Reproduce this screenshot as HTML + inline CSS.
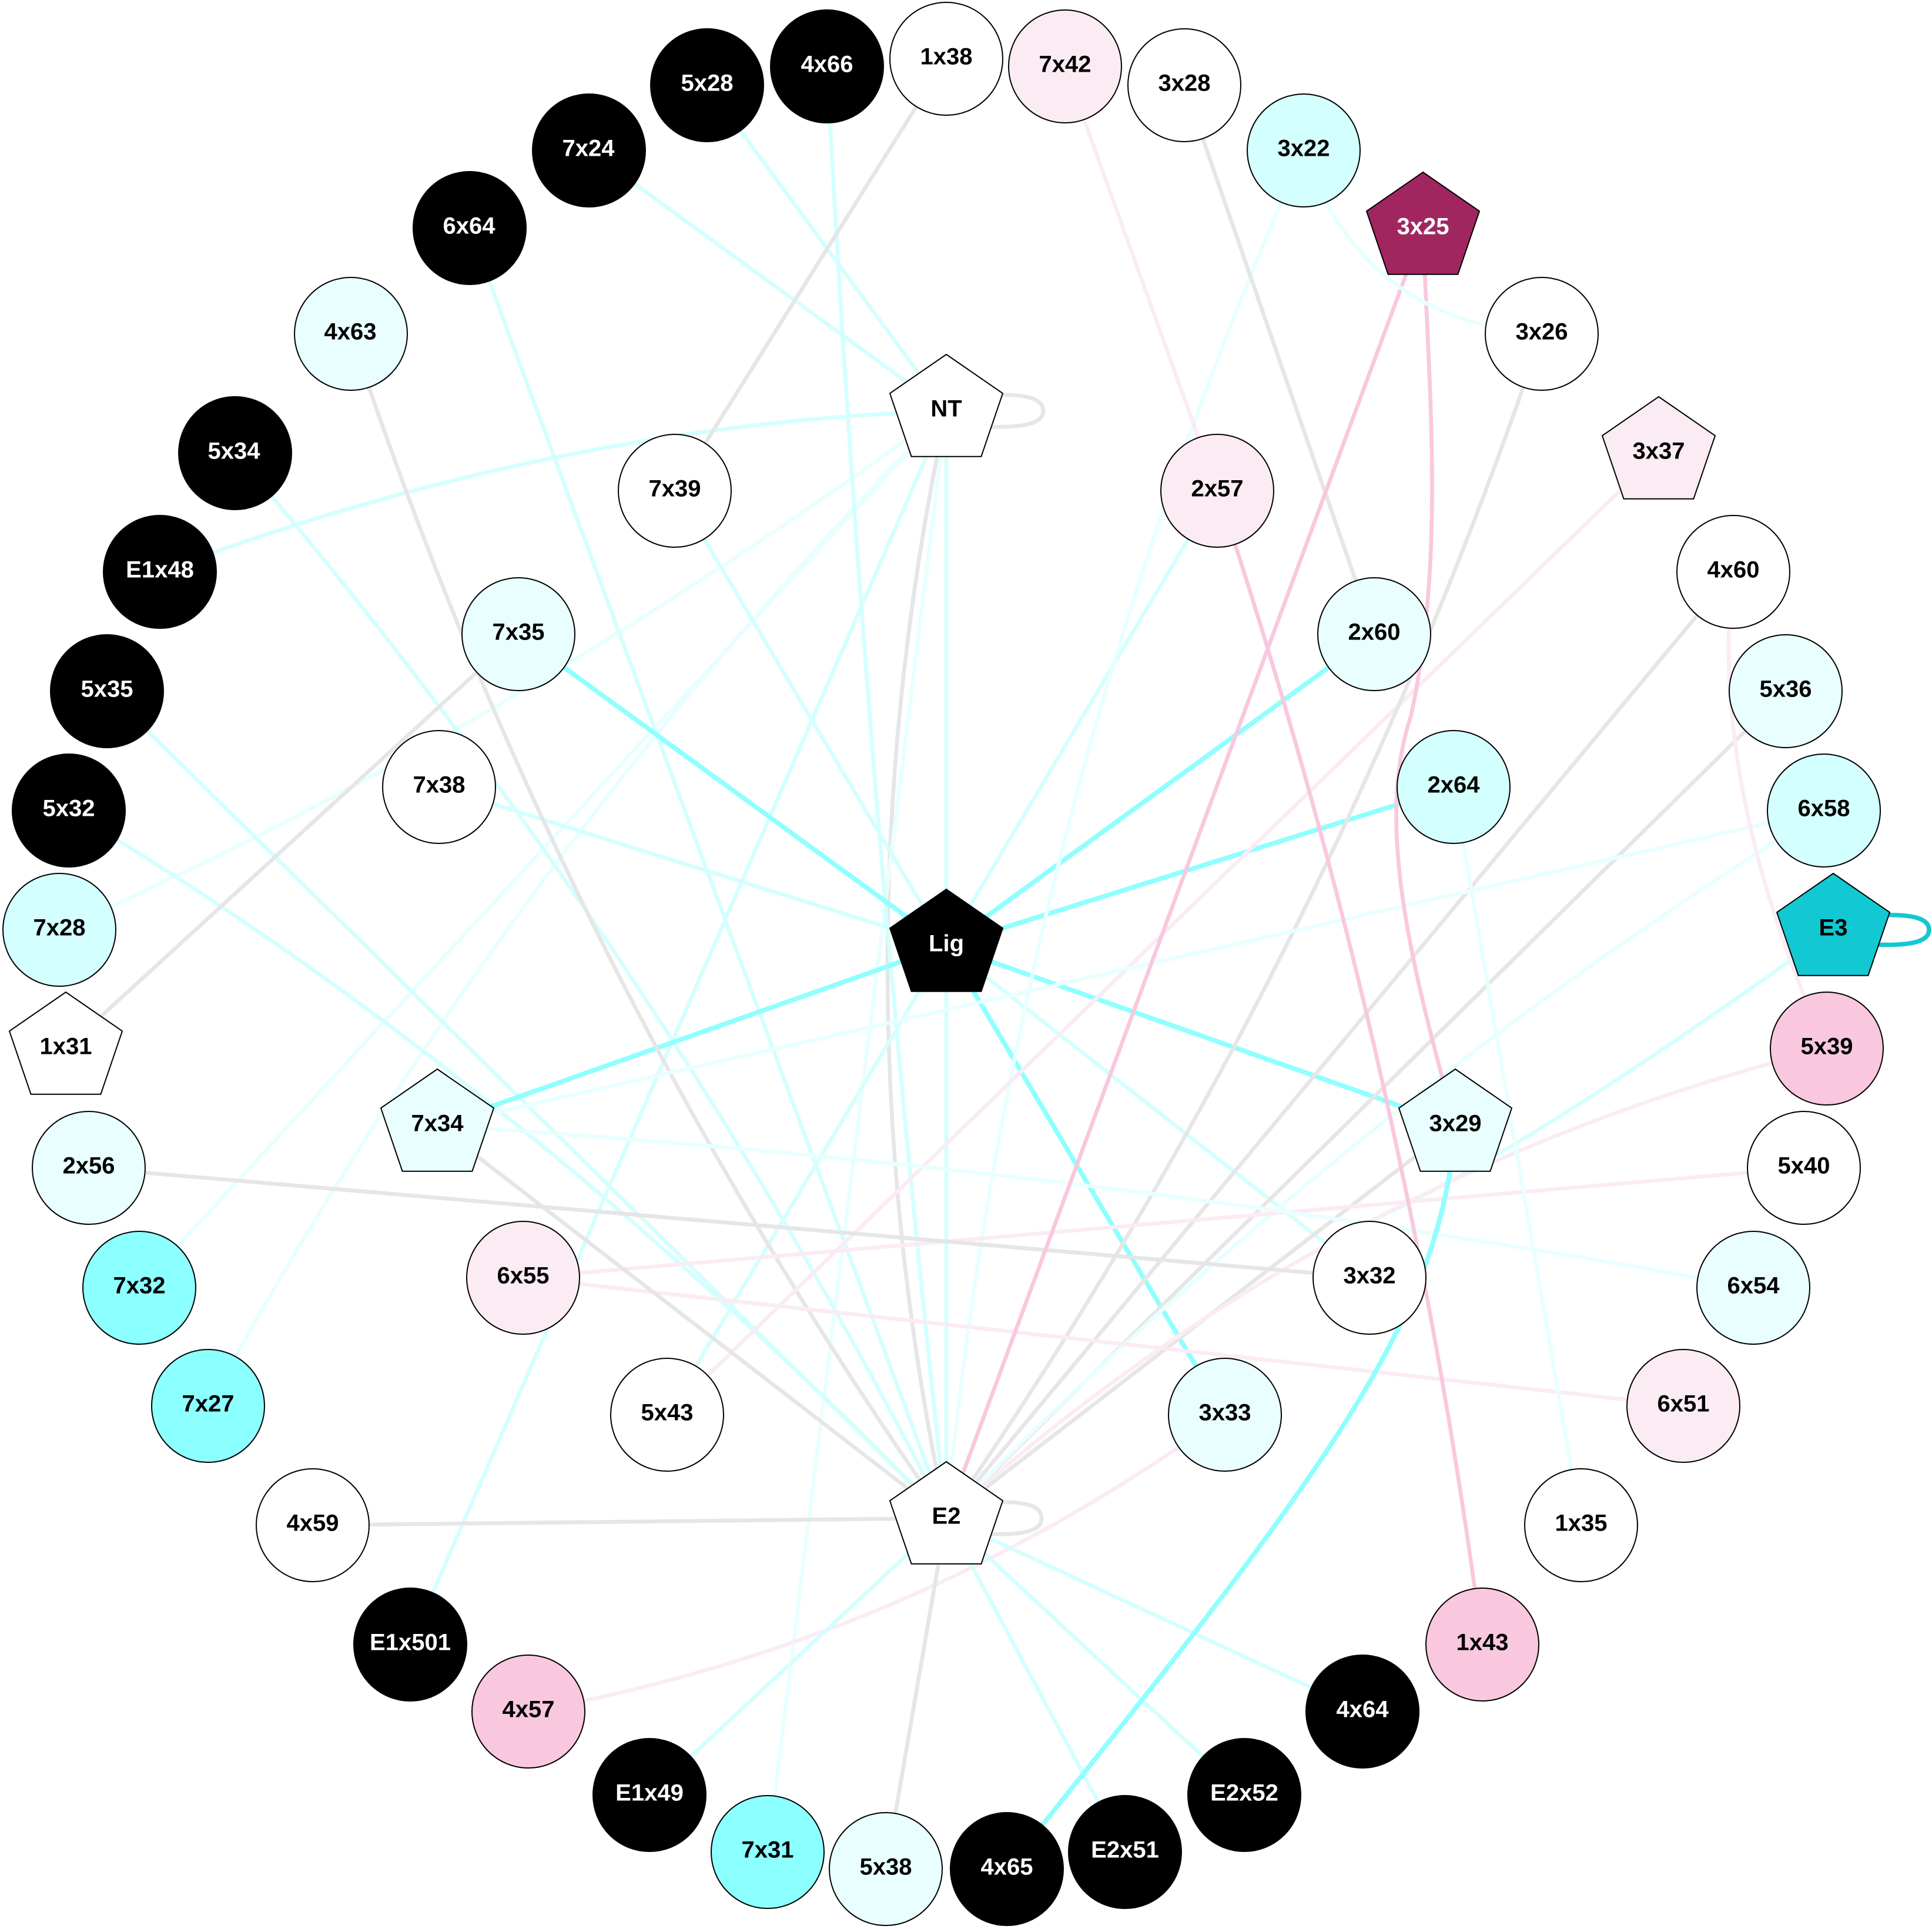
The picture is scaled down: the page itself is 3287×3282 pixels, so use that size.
<!DOCTYPE html>
<html><head><meta charset="utf-8"><style>
html,body{margin:0;padding:0;background:#fff;width:3287px;height:3282px;overflow:hidden}
svg{display:block}
path,line{fill:none;stroke-width:6.7}
.g{stroke:#e6e6e6}.a{stroke:#d4ffff}.b{stroke:#e9ffff}.c{stroke:#8fffff;stroke-width:8}
.p{stroke:#fbecf4}.q{stroke:#f9c8de}.t{stroke:#12c8d2;stroke-width:7.5}
circle,polygon{stroke:#000;stroke-width:2}
text{font-family:"Liberation Sans",Arial,sans-serif;font-weight:bold;font-size:40px;text-anchor:middle;fill:#000;transform:translateY(0.5px)}
.w{fill:#fff}
</style></head><body>
<svg width="3287" height="3282" viewBox="0 0 3287 3282" xmlns="http://www.w3.org/2000/svg">
<rect width="3287" height="3282" fill="#fff"/>
<!-- edges -->
<path class="g" d="M1690 672 C1745 670 1775 678 1775 699 C1775 720 1745 728 1680 726"/>
<path class="g" d="M1690 2556 C1745 2554 1772 2562 1772 2583 C1772 2604 1745 2612 1680 2610"/>
<path class="t" d="M3200 1557 C3255 1555 3282 1563 3282 1582 C3282 1601 3255 1610 3185 1607"/>
<line class="a" x1="1203" y1="145" x2="1610" y2="699"/>
<line class="a" x1="1002" y1="256" x2="1610" y2="699"/>
<path class="a" d="M272 973 Q941 722 1610 699"/>
<line class="a" x1="1610" y1="699" x2="1610" y2="1609"/>
<line class="a" x1="1610" y1="1609" x2="1610" y2="2583"/>
<path class="g" d="M1610 699 Q1410 1641 1610 2583"/>
<path class="b" d="M1610 699 Q855 1250 100 1582"/>
<line class="b" x1="1610" y1="699" x2="237" y2="2191"/>
<path class="b" d="M1610 699 Q862 1457 354 2392"/>
<line class="a" x1="1610" y1="699" x2="698" y2="2798"/>
<line class="b" x1="1610" y1="699" x2="1306" y2="3151"/>
<line class="a" x1="799" y1="388" x2="1610" y2="2583"/>
<path class="a" d="M1407 113 Q1472 1348 1610 2583"/>
<path class="a" d="M400 771 Q1113 1604 1610 2583"/>
<line class="a" x1="182" y1="1176" x2="1610" y2="2583"/>
<path class="a" d="M117 1379 Q863 1821 1610 2583"/>
<line class="a" x1="1149" y1="835" x2="1610" y2="1609"/>
<line class="a" x1="747" y1="1339" x2="1610" y2="1609"/>
<line class="a" x1="2071" y1="834" x2="1610" y2="1609"/>
<line class="a" x1="2330" y1="2174" x2="1610" y2="1609"/>
<line class="a" x1="1135" y1="2407" x2="1610" y2="1609"/>
<line class="c" x1="882" y1="1079" x2="1610" y2="1609"/>
<line class="c" x1="2338" y1="1079" x2="1610" y2="1609"/>
<line class="c" x1="2473" y1="1339" x2="1610" y2="1609"/>
<line class="c" x1="744" y1="1915" x2="1610" y2="1609"/>
<line class="c" x1="2476" y1="1915" x2="1610" y2="1609"/>
<line class="c" x1="2084" y1="2407" x2="1610" y2="1609"/>
<path class="b" d="M2218 256 Q1726 1371 1610 2583"/>
<line class="g" x1="2015" y1="145" x2="2338" y2="1079"/>
<line class="p" x1="1812" y1="113" x2="2071" y2="834"/>
<line class="g" x1="1610" y1="100" x2="1149" y2="835"/>
<path class="g" d="M597 568 Q957 1655 1610 2583"/>
<line class="g" x1="882" y1="1079" x2="112" y2="1784"/>
<line class="p" x1="2822" y1="771" x2="1135" y2="2407"/>
<path class="g" d="M2623 568 Q2258 1647 1610 2583"/>
<line class="g" x1="2949" y1="973" x2="1610" y2="2583"/>
<line class="g" x1="3038" y1="1176" x2="1610" y2="2583"/>
<line class="g" x1="2476" y1="1915" x2="1610" y2="2583"/>
<path class="b" d="M3103 1379 Q2283 1891 1610 2583"/>
<line class="b" x1="3103" y1="1379" x2="744" y2="1915"/>
<path class="a" d="M3119 1582 Q2543 1997 2300 2090"/>
<path class="p" d="M3108 1784 Q2259 1996 1610 2583"/>
<line class="p" x1="3069" y1="1987" x2="890" y2="2174"/>
<line class="p" x1="890" y1="2174" x2="2864" y2="2392"/>
<line class="g" x1="151" y1="1987" x2="2330" y2="2174"/>
<path class="b" d="M744 1915 Q1863 1985 2983 2191"/>
<line class="g" x1="744" y1="1915" x2="1610" y2="2583"/>
<line class="b" x1="2473" y1="1339" x2="2690" y2="2595"/>
<path class="p" d="M899 2912 Q1549 2796 2084 2407"/>
<path class="p" d="M2949 973 C2920 1200 2970 1480 3108 1784"/>
<line class="g" x1="532" y1="2595" x2="1610" y2="2583"/>
<line class="g" x1="1507" y1="3180" x2="1610" y2="2583"/>
<line class="a" x1="1105" y1="3054" x2="1610" y2="2583"/>
<line class="a" x1="1914" y1="3151" x2="1610" y2="2583"/>
<line class="a" x1="2117" y1="3054" x2="1610" y2="2583"/>
<line class="a" x1="2318" y1="2912" x2="1610" y2="2583"/>
<line class="q" x1="2421" y1="389" x2="1610" y2="2583"/>
<path class="q" d="M2421 389 C2430 650 2460 950 2400 1220 C2340 1400 2400 1640 2476 1915"/>
<path class="b" d="M2218 256 Q2316 546 2623 568"/>
<path class="q" d="M2071 834 Q2391 1794 2522 2798"/>
<path class="c" d="M2476 1915 C2450 2250 2260 2500 1713 3180"/>
<!-- circle nodes -->
<circle cx="1203" cy="145" r="96" fill="#000"/><text class="w" x="1203" y="154">5x28</text>
<circle cx="1407" cy="113" r="96" fill="#000"/><text class="w" x="1407" y="122">4x66</text>
<circle cx="1610" cy="100" r="96" fill="#fff"/><text x="1610" y="109">1x38</text>
<circle cx="1812" cy="113" r="96" fill="#fbecf4"/><text x="1812" y="122">7x42</text>
<circle cx="2015" cy="145" r="96" fill="#fff"/><text x="2015" y="154">3x28</text>
<circle cx="2218" cy="256" r="96" fill="#d4ffff"/><text x="2218" y="265">3x22</text>
<circle cx="2623" cy="568" r="96" fill="#fff"/><text x="2623" y="577">3x26</text>
<circle cx="2949" cy="973" r="96" fill="#fff"/><text x="2949" y="982">4x60</text>
<circle cx="3038" cy="1176" r="96" fill="#e9ffff"/><text x="3038" y="1185">5x36</text>
<circle cx="3103" cy="1379" r="96" fill="#d4ffff"/><text x="3103" y="1388">6x58</text>
<circle cx="3108" cy="1784" r="96" fill="#f9c8de"/><text x="3108" y="1793">5x39</text>
<circle cx="3069" cy="1987" r="96" fill="#fff"/><text x="3069" y="1996">5x40</text>
<circle cx="2983" cy="2191" r="96" fill="#e9ffff"/><text x="2983" y="2200">6x54</text>
<circle cx="2864" cy="2392" r="96" fill="#fbecf4"/><text x="2864" y="2401">6x51</text>
<circle cx="2690" cy="2595" r="96" fill="#fff"/><text x="2690" y="2604">1x35</text>
<circle cx="2522" cy="2798" r="96" fill="#f9c8de"/><text x="2522" y="2807">1x43</text>
<circle cx="2318" cy="2912" r="96" fill="#000"/><text class="w" x="2318" y="2921">4x64</text>
<circle cx="2117" cy="3054" r="96" fill="#000"/><text class="w" x="2117" y="3063">E2x52</text>
<circle cx="1914" cy="3151" r="96" fill="#000"/><text class="w" x="1914" y="3160">E2x51</text>
<circle cx="1713" cy="3180" r="96" fill="#000"/><text class="w" x="1713" y="3189">4x65</text>
<circle cx="1507" cy="3180" r="96" fill="#e9ffff"/><text x="1507" y="3189">5x38</text>
<circle cx="1306" cy="3151" r="96" fill="#8cffff"/><text x="1306" y="3160">7x31</text>
<circle cx="1105" cy="3054" r="96" fill="#000"/><text class="w" x="1105" y="3063">E1x49</text>
<circle cx="899" cy="2912" r="96" fill="#f9c8de"/><text x="899" y="2921">4x57</text>
<circle cx="698" cy="2798" r="96" fill="#000"/><text class="w" x="698" y="2807">E1x501</text>
<circle cx="532" cy="2595" r="96" fill="#fff"/><text x="532" y="2604">4x59</text>
<circle cx="354" cy="2392" r="96" fill="#8cffff"/><text x="354" y="2401">7x27</text>
<circle cx="237" cy="2191" r="96" fill="#8cffff"/><text x="237" y="2200">7x32</text>
<circle cx="151" cy="1987" r="96" fill="#e9ffff"/><text x="151" y="1996">2x56</text>
<circle cx="101" cy="1582" r="96" fill="#d4ffff"/><text x="101" y="1591">7x28</text>
<circle cx="117" cy="1379" r="96" fill="#000"/><text class="w" x="117" y="1388">5x32</text>
<circle cx="182" cy="1176" r="96" fill="#000"/><text class="w" x="182" y="1185">5x35</text>
<circle cx="272" cy="973" r="96" fill="#000"/><text class="w" x="272" y="982">E1x48</text>
<circle cx="400" cy="771" r="96" fill="#000"/><text class="w" x="398" y="780">5x34</text>
<circle cx="597" cy="568" r="96" fill="#e9ffff"/><text x="596" y="577">4x63</text>
<circle cx="799" cy="388" r="96" fill="#000"/><text class="w" x="798" y="397">6x64</text>
<circle cx="1002" cy="256" r="96" fill="#000"/><text class="w" x="1001" y="265">7x24</text>
<circle cx="1148" cy="835" r="96" fill="#fff"/><text x="1148" y="844">7x39</text>
<circle cx="2071" cy="835" r="96" fill="#fbecf4"/><text x="2071" y="844">2x57</text>
<circle cx="882" cy="1079" r="96" fill="#e9ffff"/><text x="882" y="1088">7x35</text>
<circle cx="2338" cy="1079" r="96" fill="#e9ffff"/><text x="2338" y="1088">2x60</text>
<circle cx="747" cy="1339" r="96" fill="#fff"/><text x="747" y="1348">7x38</text>
<circle cx="2473" cy="1339" r="96" fill="#d4ffff"/><text x="2473" y="1348">2x64</text>
<circle cx="890" cy="2174" r="96" fill="#fbecf4"/><text x="890" y="2183">6x55</text>
<circle cx="2330" cy="2174" r="96" fill="#fff"/><text x="2330" y="2183">3x32</text>
<circle cx="1135" cy="2407" r="96" fill="#fff"/><text x="1135" y="2416">5x43</text>
<circle cx="2084" cy="2407" r="96" fill="#e9ffff"/><text x="2084" y="2416">3x33</text>
<!-- pentagon nodes -->
<g transform="translate(2421,389)"><polygon fill="#a12660" points="0,-96 96,-29.7 59.4,77.7 -59.4,77.7 -96,-29.7"/><text class="w" y="9">3x25</text></g>
<g transform="translate(2822,771)"><polygon fill="#fbecf4" points="0,-96 96,-29.7 59.4,77.7 -59.4,77.7 -96,-29.7"/><text y="9">3x37</text></g>
<g transform="translate(3119,1582)"><polygon fill="#12c8d2" points="0,-96 96,-29.7 59.4,77.7 -59.4,77.7 -96,-29.7"/><text y="9">E3</text></g>
<g transform="translate(112,1784)"><polygon fill="#fff" points="0,-96 96,-29.7 59.4,77.7 -59.4,77.7 -96,-29.7"/><text y="9">1x31</text></g>
<g transform="translate(1610,699)"><polygon fill="#fff" points="0,-96 96,-29.7 59.4,77.7 -59.4,77.7 -96,-29.7"/><text y="9">NT</text></g>
<g transform="translate(1610,1609)"><polygon fill="#000" points="0,-96 96,-29.7 59.4,77.7 -59.4,77.7 -96,-29.7"/><text class="w" y="9">Lig</text></g>
<g transform="translate(744,1915)"><polygon fill="#e9ffff" points="0,-96 96,-29.7 59.4,77.7 -59.4,77.7 -96,-29.7"/><text y="9">7x34</text></g>
<g transform="translate(2476,1915)"><polygon fill="#e9ffff" points="0,-96 96,-29.7 59.4,77.7 -59.4,77.7 -96,-29.7"/><text y="9">3x29</text></g>
<g transform="translate(1610,2583)"><polygon fill="#fff" points="0,-96 96,-29.7 59.4,77.7 -59.4,77.7 -96,-29.7"/><text y="9">E2</text></g>
</svg>
</body></html>
